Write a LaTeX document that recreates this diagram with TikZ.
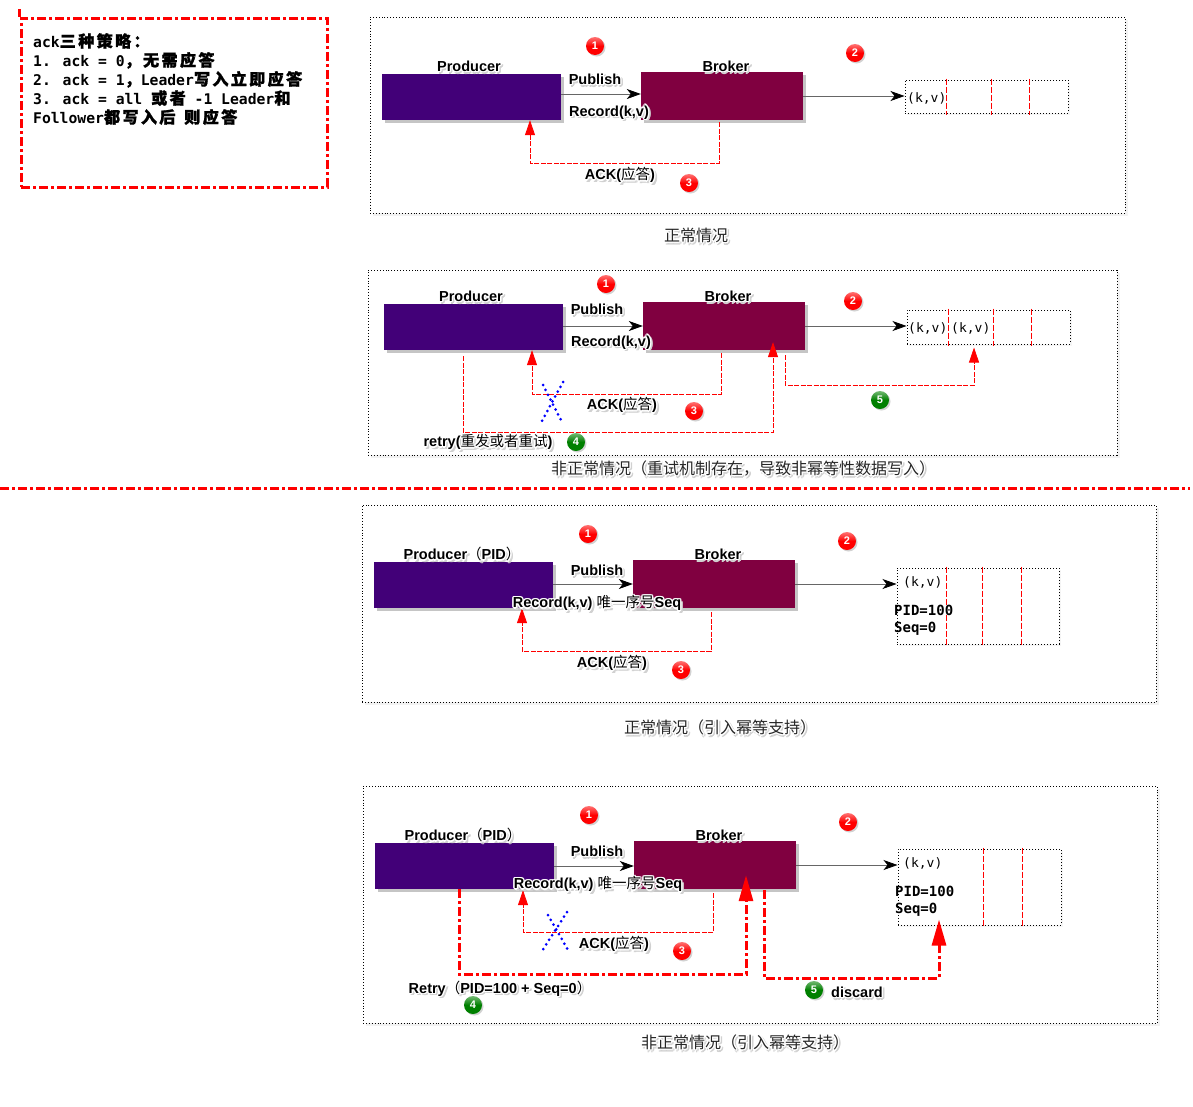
\documentclass[tikz,border=0pt]{standalone}
\usepackage{fontspec}
\setmainfont{Liberation Sans}
\newfontfamily\cjk{Noto Sans CJK SC}
\newfontfamily\cjkb{Noto Sans CJK SC}[FakeBold=1.2,LetterSpace=14,Scale=1.1]
\newfontfamily\mono{DejaVu Sans Mono}
\usetikzlibrary{arrows.meta,shadows,calc}
\definecolor{prodc}{RGB}{66,0,120}
\definecolor{brokc}{RGB}{128,0,64}
\newcommand\zh[1]{{\cjk\mdseries #1}}
\newcommand\haloat[4]{\rlap{\kern#1\raise#2\hbox{\color{#3}#4}}}
\newcommand\halo[1]{\leavevmode
  \haloat{2.4pt}{-2.4pt}{black!18}{#1}\haloat{1.2pt}{-2.8pt}{black!18}{#1}\haloat{2.8pt}{-1.2pt}{black!18}{#1}%
  \haloat{1.4pt}{0pt}{white}{#1}\haloat{-1.4pt}{0pt}{white}{#1}%
  \haloat{0pt}{1.4pt}{white}{#1}\haloat{0pt}{-1.4pt}{white}{#1}%
  \haloat{1pt}{1pt}{white}{#1}\haloat{-1pt}{1pt}{white}{#1}%
  \haloat{1pt}{-1pt}{white}{#1}\haloat{-1pt}{-1pt}{white}{#1}#1}
\tikzset{
  panel/.style={draw=black, fill=white, dotted, line width=0.9pt, inner sep=0,
    drop shadow={shadow xshift=3pt,shadow yshift=-3pt,opacity=0.10}},
  prodbox/.style={fill=prodc, inner sep=0, minimum width=179pt, minimum height=46pt,
    drop shadow={shadow xshift=3pt,shadow yshift=-3pt,opacity=0.45}},
  brokbox/.style={fill=brokc, inner sep=0, minimum width=162pt, minimum height=48pt,
    drop shadow={shadow xshift=3pt,shadow yshift=-3pt,opacity=0.45}},
  lbl/.style={font=\bfseries\fontsize{14.5}{17}\selectfont, inner sep=1pt},
  captxt/.style={font=\cjk\fontsize{16}{19}\selectfont, text=black!85, inner sep=1pt},
  badge/.style={circle, shading=axis, top color=#1!55!white, bottom color=#1, middle color=#1,
    minimum size=18pt, inner sep=0,
    text=white, font=\bfseries\fontsize{11}{11}\selectfont,
    drop shadow={shadow xshift=1.5pt,shadow yshift=-1.5pt,opacity=0.35}},
  queue/.style={draw=black, fill=white, dotted, line width=1pt, inner sep=0,
    drop shadow={shadow xshift=2pt,shadow yshift=-2pt,opacity=0.08}},
  divline/.style={draw=red, line width=0.8pt, dash pattern=on 6pt off 2pt},
  pub/.style={draw=black!60, line width=0.8pt, -{Stealth[length=14pt,width=10pt,inset=4pt,black]}},
  ackline/.style={draw=red, line width=0.8pt, dash pattern=on 5pt off 1.5pt, -{Triangle[length=15pt,width=10pt]}},
  thickline/.style={draw=red, line width=3pt, dash pattern=on 9pt off 3pt on 3pt off 3pt, -{Triangle[length=26pt,width=14pt]}},
  xcross/.style={draw=blue, line width=3pt, line cap=round, dash pattern=on 0pt off 5.5pt},
  kv/.style={font=\mono\fontsize{13}{13}\selectfont, inner sep=0, anchor=west},
  pidtxt/.style={font=\mono\bfseries\fontsize{14}{14}\selectfont, inner sep=0, anchor=west},
  notebox/.style={draw=red, line width=3pt, dash pattern=on 9pt off 3pt on 3pt off 3pt, inner sep=0},
  sepline/.style={draw=red, line width=3pt, dash pattern=on 9pt off 3pt on 3pt off 3pt},
}
\begin{document}
\begin{tikzpicture}[x=1pt,y=-1pt]
\useasboundingbox[fill=white] (0,0) rectangle (1193,1106);

% ---------- note box ----------
\node[notebox, minimum width=306pt, minimum height=169pt] (note) at (174,102.5) {};
\draw[notebox] (note.north west) -- ++(0,-8);
\node[anchor=north west, inner sep=0, align=left,
  font=\mono\bfseries\fontsize{14.7}{19}\selectfont] (notetext) at (33,33)
  {ack{\cjkb 三种策略：}\\
   1. ack = 0{\cjkb ，无需应答}\\
   2. ack = 1{\cjkb ，}Leader{\cjkb 写入立即应答}\\
   3. ack = all {\cjkb 或者} -1 Leader{\cjkb 和}\\
   Follower{\cjkb 都写入后} {\cjkb 则应答}};

% ---------- panel 1 ----------
\node[panel, minimum width=755pt, minimum height=196pt] (pan1) at (747.5,115) {};
\node[prodbox] (prod1) at (471.5,97) {};
\node[brokbox] (brok1) at (722,96) {};
\node[lbl] (prodl1) at (469,67) {\halo{Producer}};
\node[lbl] (brokl1) at (726,67) {\halo{Broker}};
\node[lbl] (publ1) at (595,80) {\halo{Publish}};
\node[lbl] (recl1) at (609,113) {\halo{Record(k,v)}};
\node[queue, minimum width=163pt, minimum height=33pt] (q1) at (986.5,96.5) {};
\foreach \dx in {-40.5,4.5,42.5}
  \draw[divline] ($(q1.north)+(\dx,-1)$) -- ($(q1.south)+(\dx,1)$);
\node[kv] (kv1) at (907,98) {(k,v)};
\draw[pub] ($(prod1.east)+(0,-3)$) -- ($(prod1.east -| brok1.west)+(0,-3)$);
\draw[pub] (brok1.east) -- (brok1.east -| q1.west);
\draw[ackline] ($(brok1.south)+(-3,2)$) -- ++(0,41) -| ($(prod1.south)+(58.5,0)$);
\node[lbl] (ackl1) at (620,176) {\halo{ACK(\zh{应答})}};
\node[badge=red] (b11) at (595,46) {1};
\node[badge=red] (b12) at (855,53) {2};
\node[badge=red] (b13) at (689,183) {3};
\node[captxt] (cap1) at (696,236) {\halo{正常情况}};

% ---------- panel 2 ----------
\node[panel, minimum width=749pt, minimum height=185pt] (pan2) at (742.5,362.5) {};
\node[prodbox] (prod2) at (473.5,327) {};
\node[brokbox] (brok2) at (724,326) {};
\node[lbl] (prodl2) at (471,297) {\halo{Producer}};
\node[lbl] (brokl2) at (728,297) {\halo{Broker}};
\node[lbl] (publ2) at (597,310) {\halo{Publish}};
\node[lbl] (recl2) at (611,343) {\halo{Record(k,v)}};
\node[queue, minimum width=163pt, minimum height=34pt] (q2) at (988.5,327) {};
\foreach \dx in {-40.5,4.5,42.5}
  \draw[divline] ($(q2.north)+(\dx,-1)$) -- ($(q2.south)+(\dx,1)$);
\node[kv] (kv2a) at (908,328) {(k,v)};
\node[kv] (kv2b) at (951,328) {(k,v)};
\draw[pub] ($(prod2.east)+(0,-1)$) -- ($(prod2.east -| brok2.west)+(0,-1)$);
\draw[pub] (brok2.east) -- (brok2.east -| q2.west);
\draw[ackline] ($(brok2.south)+(-3,3)$) -- ++(0,41) -| ($(prod2.south)+(58.5,0)$);
\draw[ackline] ($(prod2.south)+(-10.5,6)$) -- ++(0,76) -| ($(brok2.south)+(49,-8)$);
\draw[ackline] ($(brok2.south)+(61,5)$) -- ++(0,30) -| ($(q2.south)+(-14.5,3)$);
\draw[xcross] (543,385) -- (561,420);
\draw[xcross] (563,382) -- (542,421);
\node[lbl] (ackl2) at (622,406) {\halo{ACK(\zh{应答})}};
\node[lbl] (retl2) at (488,443) {\halo{retry(\zh{重发或者重试})}};
\node[badge=red] (b21) at (606,284) {1};
\node[badge=red] (b22) at (853,301) {2};
\node[badge=red] (b23) at (694,411) {3};
\node[badge=green!50!black] (b24) at (576,442) {4};
\node[badge=green!50!black] (b25) at (880,400) {5};
\node[captxt] (cap2) at (743,469) {\halo{非正常情况（重试机制存在，导致非幂等性数据写入）}};

% ---------- separator ----------
\coordinate (sepa) at (0,488);
\coordinate (sepb) at (1190,488);
\draw[sepline] (sepa) -- (sepb);

% ---------- panel 3 ----------
\node[panel, minimum width=794pt, minimum height=197pt] (pan3) at (759,603.5) {};
\node[prodbox] (prod3) at (463.5,585) {};
\node[brokbox] (brok3) at (714,584) {};
\node[lbl] (prodl3) at (462,555) {\halo{Producer\zh{（}PID\zh{）}}};
\node[lbl] (brokl3) at (718,555) {\halo{Broker}};
\node[lbl] (publ3) at (597,571) {\halo{Publish}};
\node[queue, minimum width=162pt, minimum height=76pt] (q3) at (978,606) {};
\foreach \dx in {-32,4,43}
  \draw[divline] ($(q3.north)+(\dx,-1)$) -- ($(q3.south)+(\dx,1)$);
\node[kv] (kv3) at (903,582) {(k,v)};
\node[pidtxt] (pid3) at (894,610) {PID=100};
\node[pidtxt] (seq3) at (894,629) {Seq=0};
\draw[pub] ($(prod3.east)+(0,-1)$) -- ($(prod3.east -| brok3.west)+(0,-1)$);
\draw[pub] (brok3.east) -- (brok3.east -| q3.west);
\draw[ackline] ($(brok3.south)+(-3,4)$) -- ++(0,39) -| ($(prod3.south)+(58.5,0)$);
\node[lbl] (recl3) at (597,604) {\halo{Record(k,v) \zh{唯一序号}Seq}};
\node[lbl] (ackl3) at (612,664) {\halo{ACK(\zh{应答})}};
\node[badge=red] (b31) at (588,534) {1};
\node[badge=red] (b32) at (847,541) {2};
\node[badge=red] (b33) at (681,670) {3};
\node[captxt] (cap3) at (720,728) {\halo{正常情况（引入幂等支持）}};

% ---------- panel 4 ----------
\node[panel, minimum width=794pt, minimum height=237pt] (pan4) at (760,904.5) {};
\node[prodbox] (prod4) at (464.5,866) {};
\node[brokbox] (brok4) at (715,865) {};
\node[lbl] (prodl4) at (463,836) {\halo{Producer\zh{（}PID\zh{）}}};
\node[lbl] (brokl4) at (719,836) {\halo{Broker}};
\node[lbl] (publ4) at (597,852) {\halo{Publish}};
\node[queue, minimum width=163pt, minimum height=76pt] (q4) at (979.5,887) {};
\foreach \dx in {3.5,42.5}
  \draw[divline] ($(q4.north)+(\dx,-1)$) -- ($(q4.south)+(\dx,1)$);
\node[kv] (kv4) at (903,863) {(k,v)};
\node[pidtxt] (pid4) at (895,891) {PID=100};
\node[pidtxt] (seq4) at (895,910) {Seq=0};
\draw[pub] (prod4.east) -- (prod4.east -| brok4.west);
\draw[pub] (brok4.east) -- (brok4.east -| q4.west);
\draw[ackline] ($(brok4.south)+(-2,4)$) -- ++(0,39) -| ($(prod4.south)+(58.5,1)$);
\draw[thickline] ($(prod4.south)+(-5.5,0)$) -- ++(0,85) -| ($(brok4.south)+(31,-14)$);
\draw[thickline] ($(brok4.south)+(49,1)$) -- ++(0,88) -| ($(q4.south)+(-40.5,-6)$);
\node[lbl] (recl4) at (598,885) {\halo{Record(k,v) \zh{唯一序号}Seq}};
\draw[xcross] (548,915) -- (568,950);
\draw[xcross] (567,912) -- (542,951);
\node[lbl] (ackl4) at (614,945) {\halo{ACK(\zh{应答})}};
\node[lbl] (retl4) at (500,989) {\halo{Retry\zh{（}PID=100 + Seq=0\zh{）}}};
\node[lbl] (disl4) at (857,993) {\halo{discard}};
\node[badge=red] (b41) at (589,815) {1};
\node[badge=red] (b42) at (848,822) {2};
\node[badge=red] (b43) at (682,951) {3};
\node[badge=green!50!black] (b44) at (473,1005) {4};
\node[badge=green!50!black] (b45) at (814,990) {5};
\node[captxt] (cap4) at (745,1043) {\halo{非正常情况（引入幂等支持）}};
\end{tikzpicture}
\end{document}
